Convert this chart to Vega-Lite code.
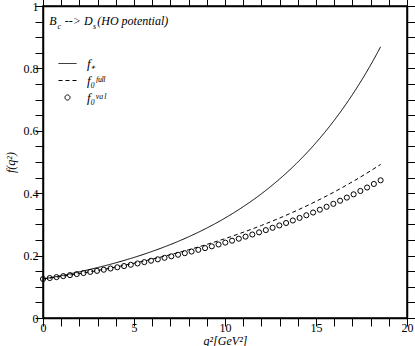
{
  "$schema": "https://vega.github.io/schema/vega-lite/v6.json",
  "width": 364,
  "height": 312,
  "autosize": {"type": "none"},
  "padding": {"left": 43, "top": 6, "right": 8, "bottom": 28},
  "background": "white",
  "config": {
    "view": {"stroke": "black", "strokeWidth": 1.5},
    "font": "Liberation Serif",
    "text": {"font": "Liberation Serif", "fontStyle": "italic", "fontWeight": "normal", "fontSize": 12, "color": "black", "align": "left", "baseline": "alphabetic"}
  },
  "data": {"values": [
    {"series": "plus", "q": 0, "f": 0.125},
    {"series": "plus", "q": 1, "f": 0.1358},
    {"series": "plus", "q": 2, "f": 0.1480},
    {"series": "plus", "q": 3, "f": 0.1616},
    {"series": "plus", "q": 4, "f": 0.1769},
    {"series": "plus", "q": 5, "f": 0.1941},
    {"series": "plus", "q": 6, "f": 0.2135},
    {"series": "plus", "q": 7, "f": 0.2354},
    {"series": "plus", "q": 8, "f": 0.2602},
    {"series": "plus", "q": 9, "f": 0.2883},
    {"series": "plus", "q": 10, "f": 0.3203},
    {"series": "plus", "q": 11, "f": 0.3567},
    {"series": "plus", "q": 12, "f": 0.3981},
    {"series": "plus", "q": 13, "f": 0.4455},
    {"series": "plus", "q": 14, "f": 0.4997},
    {"series": "plus", "q": 15, "f": 0.5619},
    {"series": "plus", "q": 16, "f": 0.6334},
    {"series": "plus", "q": 17, "f": 0.7158},
    {"series": "plus", "q": 18, "f": 0.8108},
    {"series": "plus", "q": 18.55, "f": 0.8692},
    {"series": "full", "q": 0, "f": 0.125},
    {"series": "full", "q": 1, "f": 0.1333},
    {"series": "full", "q": 2, "f": 0.1424},
    {"series": "full", "q": 3, "f": 0.1523},
    {"series": "full", "q": 4, "f": 0.1633},
    {"series": "full", "q": 5, "f": 0.1755},
    {"series": "full", "q": 6, "f": 0.1886},
    {"series": "full", "q": 7, "f": 0.2030},
    {"series": "full", "q": 8, "f": 0.2187},
    {"series": "full", "q": 9, "f": 0.2358},
    {"series": "full", "q": 10, "f": 0.2544},
    {"series": "full", "q": 11, "f": 0.2747},
    {"series": "full", "q": 12, "f": 0.2966},
    {"series": "full", "q": 13, "f": 0.3203},
    {"series": "full", "q": 14, "f": 0.3461},
    {"series": "full", "q": 15, "f": 0.3739},
    {"series": "full", "q": 16, "f": 0.4040},
    {"series": "full", "q": 17, "f": 0.4366},
    {"series": "full", "q": 18, "f": 0.4717},
    {"series": "full", "q": 18.55, "f": 0.4923},
    {"series": "val", "q": 0, "f": 0.125},
    {"series": "val", "q": 0.371, "f": 0.1280},
    {"series": "val", "q": 0.742, "f": 0.1310},
    {"series": "val", "q": 1.113, "f": 0.1342},
    {"series": "val", "q": 1.484, "f": 0.1374},
    {"series": "val", "q": 1.855, "f": 0.1407},
    {"series": "val", "q": 2.226, "f": 0.1441},
    {"series": "val", "q": 2.597, "f": 0.1476},
    {"series": "val", "q": 2.968, "f": 0.1511},
    {"series": "val", "q": 3.339, "f": 0.1548},
    {"series": "val", "q": 3.71, "f": 0.1586},
    {"series": "val", "q": 4.081, "f": 0.1625},
    {"series": "val", "q": 4.452, "f": 0.1665},
    {"series": "val", "q": 4.823, "f": 0.1706},
    {"series": "val", "q": 5.194, "f": 0.1748},
    {"series": "val", "q": 5.565, "f": 0.1791},
    {"series": "val", "q": 5.936, "f": 0.1836},
    {"series": "val", "q": 6.307, "f": 0.1881},
    {"series": "val", "q": 6.678, "f": 0.1929},
    {"series": "val", "q": 7.049, "f": 0.1977},
    {"series": "val", "q": 7.42, "f": 0.2027},
    {"series": "val", "q": 7.791, "f": 0.2078},
    {"series": "val", "q": 8.162, "f": 0.2130},
    {"series": "val", "q": 8.533, "f": 0.2184},
    {"series": "val", "q": 8.904, "f": 0.2240},
    {"series": "val", "q": 9.275, "f": 0.2297},
    {"series": "val", "q": 9.646, "f": 0.2356},
    {"series": "val", "q": 10.017, "f": 0.2416},
    {"series": "val", "q": 10.388, "f": 0.2478},
    {"series": "val", "q": 10.759, "f": 0.2542},
    {"series": "val", "q": 11.13, "f": 0.2608},
    {"series": "val", "q": 11.501, "f": 0.2676},
    {"series": "val", "q": 11.872, "f": 0.2745},
    {"series": "val", "q": 12.243, "f": 0.2817},
    {"series": "val", "q": 12.614, "f": 0.2891},
    {"series": "val", "q": 12.985, "f": 0.2967},
    {"series": "val", "q": 13.356, "f": 0.3045},
    {"series": "val", "q": 13.727, "f": 0.3125},
    {"series": "val", "q": 14.098, "f": 0.3208},
    {"series": "val", "q": 14.469, "f": 0.3293},
    {"series": "val", "q": 14.84, "f": 0.3381},
    {"series": "val", "q": 15.211, "f": 0.3471},
    {"series": "val", "q": 15.582, "f": 0.3564},
    {"series": "val", "q": 15.953, "f": 0.3659},
    {"series": "val", "q": 16.324, "f": 0.3758},
    {"series": "val", "q": 16.695, "f": 0.3859},
    {"series": "val", "q": 17.066, "f": 0.3964},
    {"series": "val", "q": 17.437, "f": 0.4071},
    {"series": "val", "q": 17.808, "f": 0.4182},
    {"series": "val", "q": 18.179, "f": 0.4296},
    {"series": "val", "q": 18.55, "f": 0.4413}
  ]},
  "layer": [
    {
      "transform": [{"filter": "datum.series !== 'val'"}],
      "mark": {"type": "line", "color": "black", "strokeWidth": 1, "interpolate": "monotone"},
      "encoding": {
        "x": {
          "field": "q", "type": "quantitative",
          "scale": {"domain": [0, 20], "nice": false, "zero": false},
          "axis": {
            "orient": "bottom",
            "values": [0,1,2,3,4,5,6,7,8,9,10,11,12,13,14,15,16,17,18,19,20],
            "format": "~g",
            "labelExpr": "datum.value % 5 === 0 ? datum.label : ''",
            "labelFlush": false, "labelOverlap": false, "grid": false,
            "domainColor": "black", "domainWidth": 1.5,
            "tickColor": "black", "tickWidth": 1, "tickSize": 8,
            "labelPadding": -4, "labelFont": "Liberation Serif", "labelFontSize": 12, "labelColor": "black",
            "title": "q²[GeV²]", "titleFont": "Liberation Serif", "titleFontStyle": "italic", "titleFontWeight": "normal", "titleFontSize": 12, "titleColor": "black", "titlePadding": 2,
            "encode": {"ticks": {"update": {"y2": {"signal": "datum.value % 5 === 0 ? -8 : -4"}}}}
          }
        },
        "y": {
          "field": "f", "type": "quantitative",
          "scale": {"domain": [0, 1], "nice": false},
          "axis": {
            "orient": "left",
            "values": [0,0.05,0.1,0.15,0.2,0.25,0.3,0.35,0.4,0.45,0.5,0.55,0.6,0.65,0.7,0.75,0.8,0.85,0.9,0.95,1],
            "format": "~g",
            "labelExpr": "abs(datum.value*5 - round(datum.value*5)) < 0.001 ? datum.label : ''",
            "labelFlush": false, "labelOverlap": false, "grid": false,
            "domainColor": "black", "domainWidth": 1.5,
            "tickColor": "black", "tickWidth": 1, "tickSize": 8,
            "labelPadding": -3, "labelFont": "Liberation Serif", "labelFontSize": 12, "labelColor": "black",
            "title": "f(q²)", "titleFont": "Liberation Serif", "titleFontStyle": "italic", "titleFontWeight": "normal", "titleFontSize": 12, "titleColor": "black", "titlePadding": 6,
            "encode": {"ticks": {"update": {"x2": {"signal": "abs(datum.value*5 - round(datum.value*5)) < 0.001 ? 8 : 4"}}}}
          }
        },
        "strokeDash": {
          "field": "series", "type": "nominal",
          "scale": {"domain": ["plus", "full", "val"], "range": [[1, 0], [4, 3], [1, 0]]},
          "legend": {
            "orient": "none", "legendX": 15, "legendY": 48, "padding": 0,
            "title": null,
            "labelExpr": "datum.value === 'plus' ? 'f₊' : datum.value === 'full' ? 'f₀ᶠᵘˡˡ' : 'f₀ᵛᵃˡ'",
            "labelFont": "Liberation Serif", "labelFontStyle": "italic", "labelFontWeight": "normal", "labelFontSize": 13, "labelColor": "black",
            "symbolStrokeColor": "black", "symbolStrokeWidth": 1, "symbolSize": 324,
            "rowPadding": 0, "labelOffset": 10,
            "encode": {"symbols": {"update": {
              "shape": {"signal": "datum.value === 'val' ? 'circle' : 'stroke'"},
              "size": {"signal": "datum.value === 'val' ? 26 : 324"}
            }}}
          }
        }
      }
    },
    {
      "transform": [{"filter": "datum.series === 'val'"}],
      "mark": {"type": "point", "shape": "circle", "filled": false, "color": "black", "size": 26, "strokeWidth": 1, "opacity": 1},
      "encoding": {
        "x": {"field": "q", "type": "quantitative", "axis": null},
        "y": {"field": "f", "type": "quantitative", "axis": null}
      }
    },
    {
      "mark": {"type": "point", "opacity": 0},
      "encoding": {
        "x": {
          "field": "q", "type": "quantitative",
          "axis": {
            "orient": "top", "values": [0,1,2,3,4,5,6,7,8,9,10,11,12,13,14,15,16,17,18,19,20],
            "labels": false, "title": null, "grid": false,
            "domainColor": "black", "domainWidth": 1.5, "tickColor": "black", "tickWidth": 1, "tickSize": 8,
            "encode": {"ticks": {"update": {"y2": {"signal": "datum.value % 5 === 0 ? 8 : 4"}}}}
          }
        },
        "y": {
          "field": "f", "type": "quantitative",
          "axis": {
            "orient": "right",
            "values": [0,0.05,0.1,0.15,0.2,0.25,0.3,0.35,0.4,0.45,0.5,0.55,0.6,0.65,0.7,0.75,0.8,0.85,0.9,0.95,1],
            "labels": false, "title": null, "grid": false,
            "domainColor": "black", "domainWidth": 1.5, "tickColor": "black", "tickWidth": 1, "tickSize": 8,
            "encode": {"ticks": {"update": {"x2": {"signal": "abs(datum.value*5 - round(datum.value*5)) < 0.001 ? -8 : -4"}}}}
          }
        }
      }
    },
    {
      "data": {"values": [{}]},
      "mark": {"type": "text", "text": "B", "fontWeight": "normal"},
      "encoding": {"x": {"datum": 0.35, "type": "quantitative", "axis": null}, "y": {"datum": 0.938, "type": "quantitative", "axis": null}}
    },
    {
      "data": {"values": [{}]},
      "mark": {"type": "text", "text": "c", "fontSize": 8, "fontWeight": "normal"},
      "encoding": {"x": {"datum": 0.8, "type": "quantitative", "axis": null}, "y": {"datum": 0.926, "type": "quantitative", "axis": null}}
    },
    {
      "data": {"values": [{}]},
      "mark": {"type": "text", "text": "--> D", "fontWeight": "normal"},
      "encoding": {"x": {"datum": 1.2, "type": "quantitative", "axis": null}, "y": {"datum": 0.938, "type": "quantitative", "axis": null}}
    },
    {
      "data": {"values": [{}]},
      "mark": {"type": "text", "text": "s", "fontSize": 8, "fontWeight": "normal"},
      "encoding": {"x": {"datum": 2.75, "type": "quantitative", "axis": null}, "y": {"datum": 0.926, "type": "quantitative", "axis": null}}
    },
    {
      "data": {"values": [{}]},
      "mark": {"type": "text", "text": "(HO potential)", "fontWeight": "normal"},
      "encoding": {"x": {"datum": 2.98, "type": "quantitative", "axis": null}, "y": {"datum": 0.938, "type": "quantitative", "axis": null}}
    }
  ],
  "resolve": {"axis": {"x": "independent", "y": "independent"}}
}
